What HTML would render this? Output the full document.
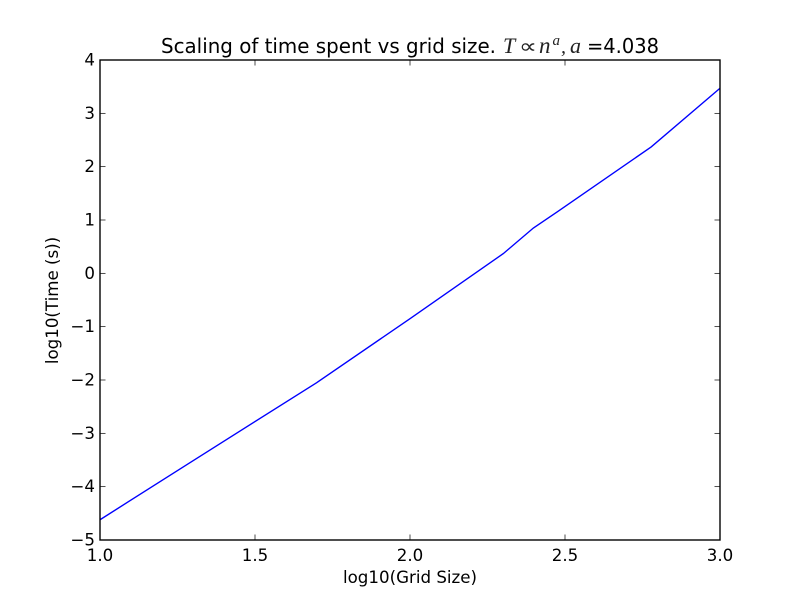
<!DOCTYPE html>
<html>
<head>
<meta charset="utf-8">
<title>Scaling of time spent vs grid size</title>
<style>
html,body{margin:0;padding:0;background:#fff;}
svg{display:block;}
text{font-family:"DejaVu Sans","Liberation Sans",sans-serif;fill:#000;}
.math{font-family:"Liberation Serif",serif;font-style:italic;fill:#222;}
</style>
</head>
<body>
<svg id="chart" width="800" height="600" viewBox="0 0 800 600" xmlns="http://www.w3.org/2000/svg">
<rect width="800" height="600" fill="#fff"></rect>
<g>
<text x="161" y="53" font-size="20" textLength="335" lengthAdjust="spacingAndGlyphs">Scaling of time spent vs grid size.</text>
<text class="math" x="503" y="53" font-size="22">T</text>
<text x="519" y="53" font-size="20" textLength="18" lengthAdjust="spacingAndGlyphs" style="fill:#222">∝</text>
<text class="math" x="539" y="53" font-size="23">n</text>
<text class="math" x="552.5" y="45" font-size="15">a</text>
<text class="math" x="561" y="53" font-size="20">,</text>
<text class="math" x="570" y="53" font-size="22">a</text>
<text x="587" y="53" font-size="20" textLength="72" lengthAdjust="spacingAndGlyphs">=4.038</text>
</g>
<g id="plot"></g>
<text x="410" y="583" font-size="16.67" text-anchor="middle">log10(Grid Size)</text>
<text transform="translate(58,300.5) rotate(-90)" font-size="16.67" text-anchor="middle">log10(Time (s))</text>
</svg>
<script>
const gridSizeLog = [1, 1.301, 1.699, 2, 2.301, 2.398, 2.477, 2.778, 3];
const timeLog = [-4.62, -3.51, -2.05, -0.85, 0.37, 0.85, 1.16, 2.37, 3.47];
const xTicks = [1, 1.5, 2, 2.5, 3];
const xTickLabels = ['1.0', '1.5', '2.0', '2.5', '3.0'];
const yTicks = [-5, -4, -3, -2, -1, 0, 1, 2, 3, 4];
const yTickLabels = ['−5', '−4', '−3', '−2', '−1', '0', '1', '2', '3', '4'];

const NS = 'http://www.w3.org/2000/svg';
const plot = document.getElementById('plot');
const box = { left: 100, right: 720, top: 60, bottom: 540 };
const xScale = v => box.left + (v - 1) / 2 * (box.right - box.left);
const yScale = v => box.bottom - (v + 5) / 9 * (box.bottom - box.top);

function make(tag, attrs, parent) {
  const el = document.createElementNS(NS, tag);
  Object.keys(attrs).forEach(k => el.setAttribute(k, attrs[k]));
  parent.appendChild(el);
  return el;
}

const series = make('polyline', {
  points: gridSizeLog.map((v, i) => xScale(v) + ',' + yScale(timeLog[i])).join(' '),
  fill: 'none', stroke: '#0000ff', 'stroke-width': 1.39
}, plot);



xTicks.forEach((v, i) => {
  const x = xScale(v);
  const bottomTick = make('line', { x1: x, x2: x, y1: box.bottom, y2: box.bottom - 5.5, stroke: '#000', 'stroke-width': 0.7 }, plot);
  
  
  const topTick = make('line', { x1: x, x2: x, y1: box.top, y2: box.top + 5.5, stroke: '#000', 'stroke-width': 0.7 }, plot);
  
  
  const label = make('text', { x: x, y: 561, 'font-size': 16.67, 'text-anchor': 'middle' }, plot);
  label.textContent = xTickLabels[i];
  
  
});

yTicks.forEach((v, i) => {
  const y = yScale(v);
  const leftTick = make('line', { x1: box.left, x2: box.left + 5.5, y1: y, y2: y, stroke: '#000', 'stroke-width': 0.7 }, plot);
  
  
  const rightTick = make('line', { x1: box.right, x2: box.right - 5.5, y1: y, y2: y, stroke: '#000', 'stroke-width': 0.7 }, plot);
  
  
  const label = make('text', { x: 95, y: y + 5.5, 'font-size': 16.67, 'text-anchor': 'end' }, plot);
  label.textContent = yTickLabels[i];
  
  
});

const frame = make('rect', {
  x: box.left, y: box.top, width: box.right - box.left, height: box.bottom - box.top,
  fill: 'none', stroke: '#000', 'stroke-width': 1.39
}, plot);


</script>
</body>
</html>
